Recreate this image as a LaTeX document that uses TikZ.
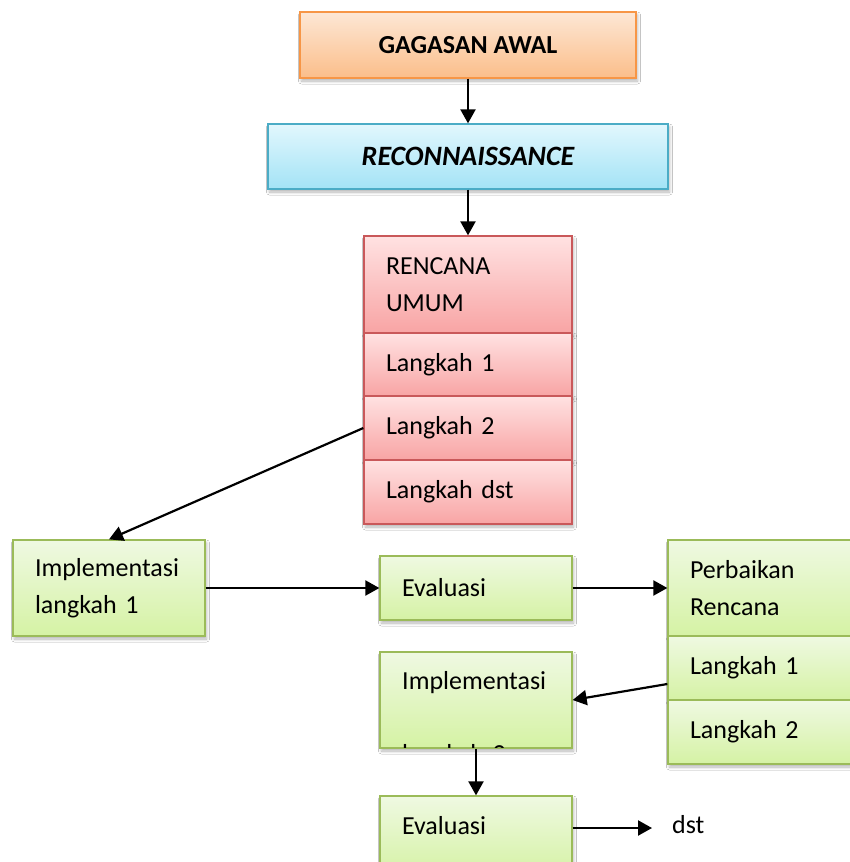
\documentclass[tikz,border=0pt]{standalone}
\usepackage{fontspec}
\setmainfont{Carlito}
\usetikzlibrary{arrows.meta,shadows.blur,calc}
\definecolor{orT}{HTML}{FDE7D5}\definecolor{orB}{HTML}{FBBE8A}\definecolor{orD}{HTML}{F79646}
\definecolor{cyT}{HTML}{E2F7FD}\definecolor{cyB}{HTML}{A3E3F6}\definecolor{cyD}{HTML}{4BACC6}
\definecolor{rdT}{HTML}{FFE2E2}\definecolor{rdB}{HTML}{F8A4A4}\definecolor{rdD}{HTML}{C9585A}
\definecolor{grT}{HTML}{EFF9E2}\definecolor{grB}{HTML}{D5F2A4}\definecolor{grD}{HTML}{9BBB59}
\begin{document}
\begin{tikzpicture}[x=1pt,y=-1pt,
  txt/.style={font=\fontsize{26}{37}\selectfont},
  box/.style={rectangle, line width=1.3pt, inner ysep=0pt, inner xsep=22pt, align=left, txt,
    blur shadow={shadow xshift=1.5pt, shadow yshift=-3pt, shadow blur steps=6, shadow opacity=30, shadow blur radius=3pt}},
  orangebox/.style={box, draw=orD, top color=orT, bottom color=orB, align=center},
  cyanbox/.style={box, draw=cyD, top color=cyT, bottom color=cyB, align=center},
  redbox/.style={box, draw=rdD, top color=rdT, bottom color=rdB, minimum width=208pt, text width=164pt},
  greenbox/.style={box, draw=grD, top color=grT, bottom color=grB, minimum width=192pt, text width=148pt},
  greenwide/.style={box, draw=grD, top color=grT, bottom color=grB, minimum width=210pt, text width=166pt},
  arr/.style={line width=2.2pt, -{Triangle[length=14pt,width=15pt]}}
]
\clip (0,0) rectangle (850,862);
\fill[white] (0,0) rectangle (850,862);

\node[orangebox, minimum width=336pt, minimum height=66pt] (gag) at (468,45) {\bfseries GAGASAN AWAL};
\node[cyanbox, minimum width=400pt, minimum height=65pt] (rec) at (468,156.5) {\fontsize{28}{37}\selectfont\bfseries\itshape RECONNAISSANCE};

\node[redbox, minimum height=97pt] (r0) at (468,284.5) {RENCANA\\UMUM};
\node[redbox, minimum height=63pt] (r1) at (468,364.5) {Langkah 1};
\node[redbox, minimum height=64pt] (r2) at (468,428) {Langkah 2};
\node[redbox, minimum height=64pt] (r3) at (468,492) {Langkah dst};

\node[greenbox, minimum height=96pt] (impl1) at (109,588) {Implementasi\\langkah 1};
\node[greenbox, minimum height=64pt] (ev1) at (476,588) {Evaluasi};

\node[greenwide, minimum height=96pt] (p0) at (773,588) {Perbaikan\\Rencana};
\node[greenwide, minimum height=64pt] (p1) at (773,668) {Langkah 1};
\node[greenwide, minimum height=64pt] (p2) at (773,732) {Langkah 2};

\node[greenbox, minimum height=96pt] (impl2) at (476,700) {};
\begin{scope}
  \clip ([xshift=1pt,yshift=1pt]impl2.south west) rectangle ([xshift=-1pt,yshift=-1pt]impl2.north east);
  \node[anchor=base west, inner sep=0pt, text width=150pt, align=left, txt] (impl2text)
    at (402,689.5) {Implementasi\\[36pt]langkah 2};
\end{scope}

\node[greenbox, minimum height=80pt, text height=18pt, text depth=22pt] (ev2) at (476,836) {Evaluasi};
\node[anchor=west, inner xsep=0pt, txt] (dst) at (672,825) {dst};
\coordinate (dstend) at (652,828);

\draw[arr] (gag) -- (rec);
\draw[arr] (rec) -- (r0);
\draw[arr] (r2.west) -- (impl1.north);
\draw[arr] (impl1) -- (ev1);
\draw[arr] (ev1) -- (p0);
\draw[arr] ([yshift=-16pt]p1.west) -- (impl2.east);
\draw[arr] (impl2) -- (ev2);
\draw[arr] (ev2.east |- dstend) -- (dstend);
\end{tikzpicture}
\end{document}
